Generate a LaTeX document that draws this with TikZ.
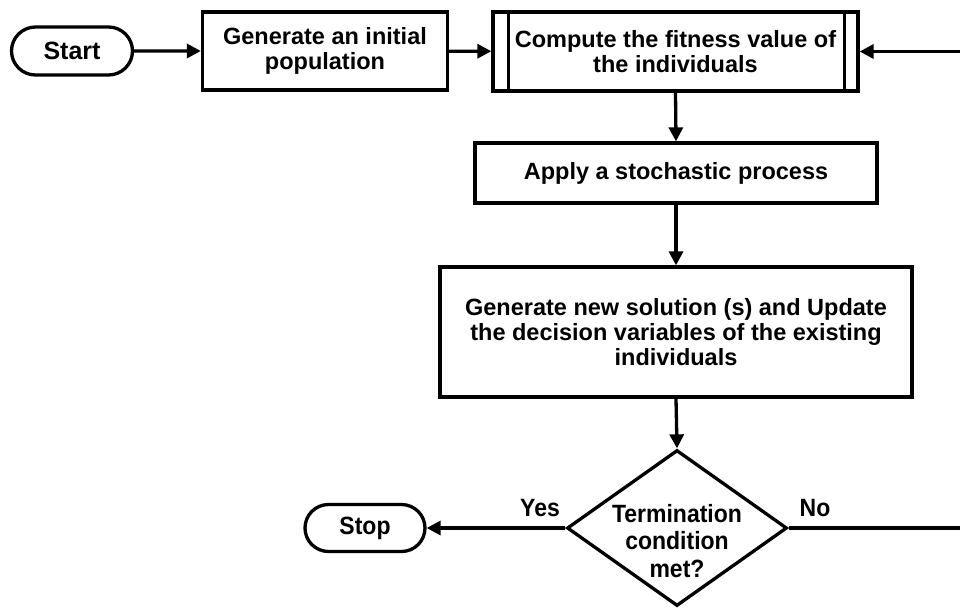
\documentclass[tikz,border=0pt]{standalone}
\usepackage{fontspec}
\setmainfont{Liberation Sans}
\newfontfamily\narrowfont[FakeStretch=0.92]{Liberation Sans}
\usetikzlibrary{arrows.meta,shapes.geometric,shapes.misc}
\begin{document}
\begin{tikzpicture}[x=1pt,y=-1pt,
  every node/.style={font=\fontsize{23.5}{25}\selectfont\bfseries, align=center, inner sep=0pt},
  arr/.style={line width=3.3pt, -{Triangle[length=14pt,width=14pt]}},
  term/.style={draw, line width=3.3pt, rounded rectangle},
  proc/.style={draw, line width=3.3pt, rectangle},
  dec/.style={draw, line width=3.3pt, diamond, aspect=1.41},
  narrowtxt/.style={font=\fontsize{25}{27.5}\selectfont\bfseries\narrowfont},
  lbl/.style={font=\fontsize{25}{25}\selectfont\bfseries\narrowfont}
]
\useasboundingbox (0,0) rectangle (960,608);
\node[term, minimum width=121pt, minimum height=48pt, font=\fontsize{25}{25}\selectfont\bfseries] (start) at (72,51) {Start};
\node[proc, minimum width=245pt, minimum height=78pt] (init) at (325,51) {Generate an initial\\population};
\node[proc, minimum width=365pt, minimum height=79pt] (comp) at (675.5,51.5) {Compute the fitness value of\\the individuals};
\draw[line width=3.3pt] ([xshift=17pt]comp.north west) -- ([xshift=17pt]comp.south west);
\draw[line width=3.3pt] ([xshift=-15pt]comp.north east) -- ([xshift=-15pt]comp.south east);
\node[proc, minimum width=402pt, minimum height=60pt] (apply) at (676,173) {Apply a stochastic process};
\node[proc, minimum width=472pt, minimum height=130pt] (gen) at (676,332) {Generate new solution (s) and Update\\the decision variables of the existing\\individuals};
\node[dec, minimum width=220pt, minimum height=156pt] (cond) at (677,528) {};
\node[narrowtxt] (condtxt) at (677,541) {Termination\\condition\\met?};
\node[term, minimum width=120pt, minimum height=47pt, font=\fontsize{25}{25}\selectfont\bfseries\narrowfont] (stop) at (365,528) {Stop};
\coordinate (rt) at (963,528);
\draw[arr] (start) -- (init);
\draw[arr] (init) -- (comp);
\draw[arr] (comp.south) -- (apply.north);
\draw[arr] (apply) -- (gen);
\draw[arr] (gen.south) -- (cond.north);
\draw[arr] (cond.west) -- (stop.east);
\draw[arr] (cond.east) -- (rt) |- (comp.east);
\node[lbl] (yes) at (540,508) {Yes};
\node[lbl] (no) at (815,508) {No};
\end{tikzpicture}
\end{document}
